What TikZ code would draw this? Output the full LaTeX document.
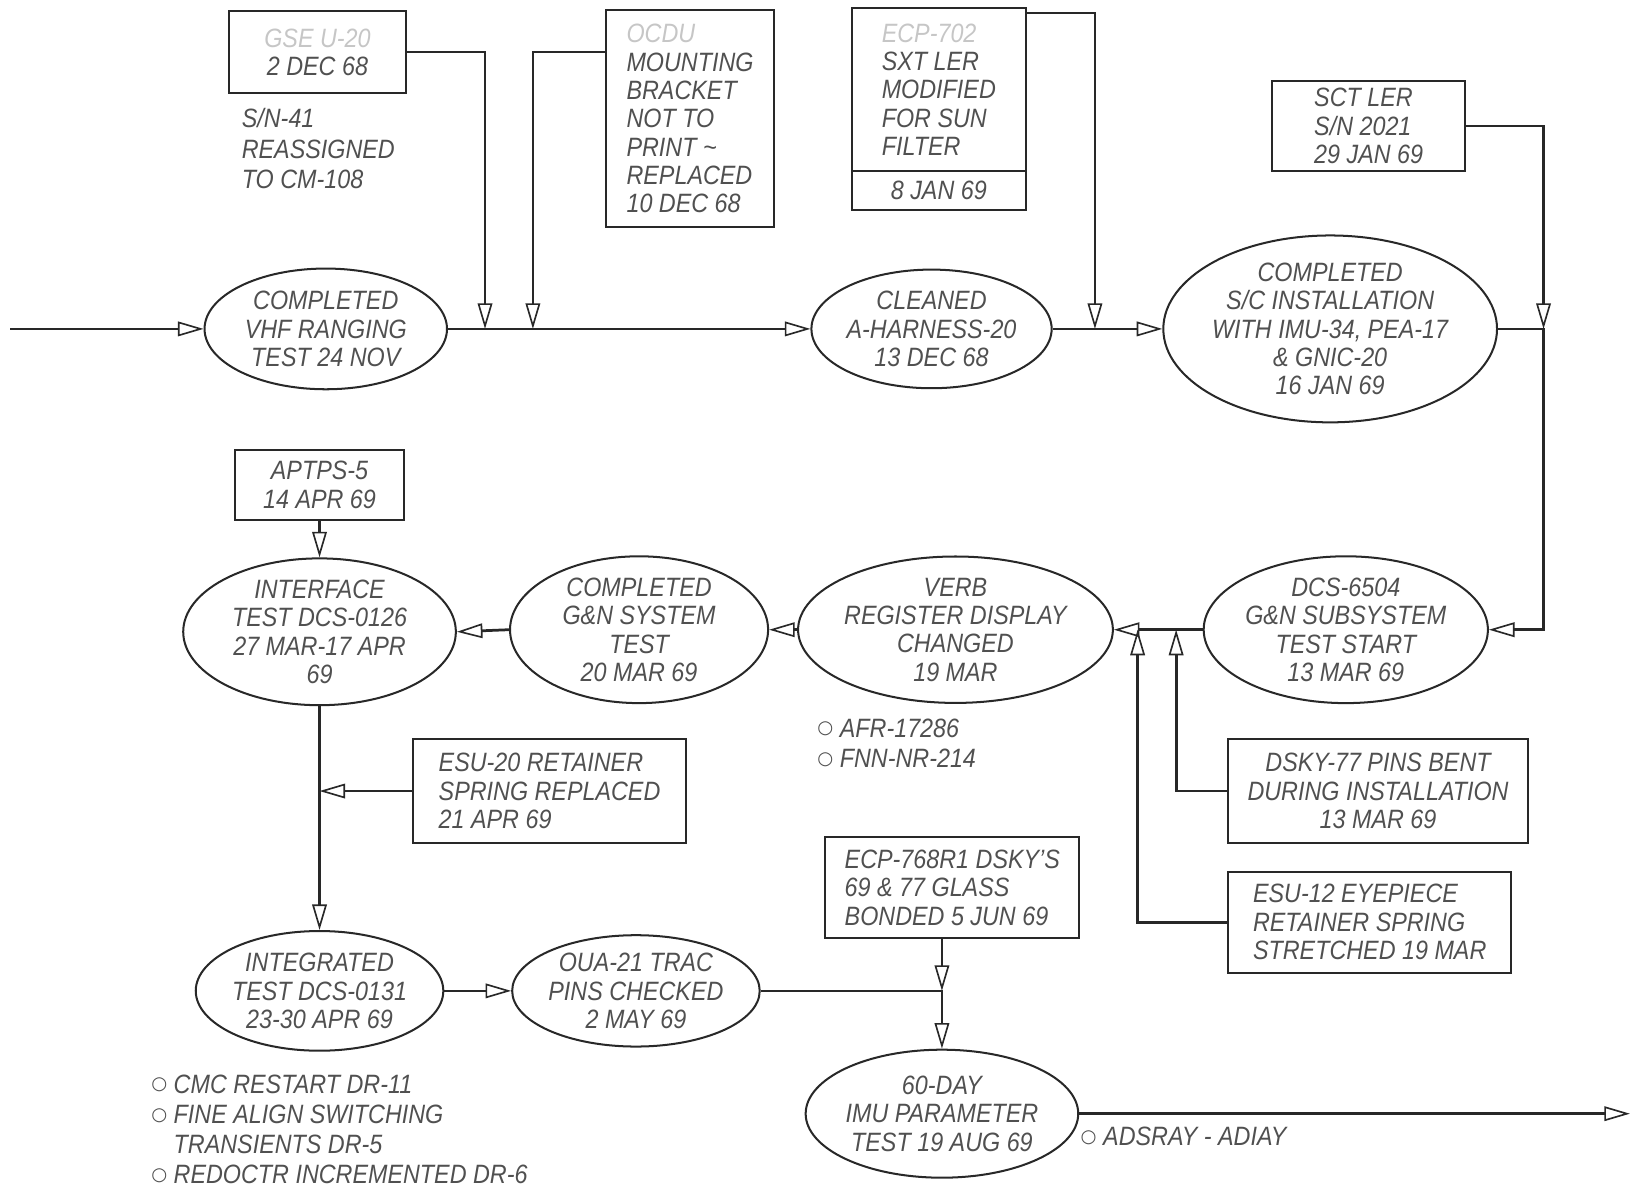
\documentclass[tikz,border=0pt]{standalone}
\usepackage{fontspec}
\setmainfont{Liberation Sans}[FakeStretch=0.88]
\newfontfamily\symfont{DejaVu Sans}
\usepackage{xcolor}
\usetikzlibrary{arrows.meta,positioning,shapes.geometric}
\definecolor{inkline}{RGB}{40,40,40}
\definecolor{inktext}{RGB}{80,80,80}
\newcommand{\ptmark}{\raisebox{0.12em}{\symfont\fontsize{10}{10}\selectfont ○}\ }
\newcommand{\faint}[1]{{\color{gray!45}#1}}

\begin{document}
\begin{tikzpicture}[x=0.02cm, y=-0.02cm,
    event/.style={ellipse, draw=inkline, line width=1.1pt, inner sep=0pt, align=center,
                text=inktext, font=\itshape\fontsize{14.5}{15.5}\selectfont},
    note/.style={rectangle, draw=inkline, line width=1.1pt, inner sep=0pt, align=left,
                text=inktext, font=\itshape\fontsize{14.5}{15.5}\selectfont},
    remark/.style={inner sep=0pt, align=left, text=inktext,
                font=\itshape\fontsize{14.5}{16.5}\selectfont},
    arr/.style={-{Triangle[open, length=14pt, width=8pt, line width=0.9pt]}, inkline, line width=1.5pt}]
\useasboundingbox (0,0) rectangle (1568,1154);
% top row
\node[event, minimum width=4.66cm, minimum height=2.32cm] (vhf) at (313,316) {COMPLETED\\VHF RANGING\\TEST 24 NOV};
\node[event, minimum width=4.6cm, minimum height=2.28cm] (clean) at (895,316) {CLEANED\\A-HARNESS-20\\13 DEC 68};
\node[event, minimum width=5.7cm, minimum height=3.1cm] (scinst) at (1278,316) {COMPLETED\\S/C INSTALLATION\\WITH IMU-34, PEA-17\\\& GNIC-20\\16 JAN 69};
\node[note, align=center, minimum width=3.4cm, minimum height=1.56cm] (b1) at (305,50) {\faint{GSE U-20}\\2 DEC 68};
\node[note, minimum width=3.22cm, minimum height=4.16cm] (b2) at (663,114) {\faint{OCDU}\\MOUNTING\\BRACKET\\NOT TO\\PRINT \textasciitilde\\REPLACED\\10 DEC 68};
\node[note, minimum width=3.34cm, minimum height=3.14cm] (b3) at (902,86) {\faint{ECP-702}\\SXT LER\\MODIFIED\\FOR SUN\\FILTER};
\node[note, align=center, minimum width=3.34cm, minimum height=0.74cm] (b3d) at (902,183) {8 JAN 69};
\node[note, minimum width=3.72cm, minimum height=1.74cm] (sct) at (1315,121) {SCT LER\\S/N 2021\\29 JAN 69};
\node[remark, anchor=north west] (sn41) at (232,104) {S/N-41\\REASSIGNED\\TO CM-108};
\coordinate (in) at (10,316);
\coordinate (j1) at (466,316);
\coordinate (j2) at (512,316);
\coordinate (j3) at (1052,316);
\coordinate (j4) at (1483,316);
\draw[arr] (in) -- (vhf.west);
\draw[arr] (vhf.east) -- (clean.west);
\draw[arr] (b1.east) -| (j1);
\draw[arr] (b2.west |- b1.east) -| (j2);
\draw[arr] ([yshift=-0.12cm]b3.north east) -| (j3);
\draw[arr] (clean.east) -- (scinst.west);
\draw[arr] (sct.east) -| (j4);
% middle row
\node[event, minimum width=4.74cm, minimum height=2.5cm] (dcs) at (1293,605) {DCS-6504\\G\&N SUBSYSTEM\\TEST START\\13 MAR 69};
\node[event, minimum width=4.86cm, minimum height=2.5cm] (verb) at (918,605) {VERB\\REGISTER DISPLAY\\CHANGED\\19 MAR};
\node[event, minimum width=4.96cm, minimum height=2.4cm] (gnsys) at (614,605) {COMPLETED\\G\&N SYSTEM\\TEST\\20 MAR 69};
\node[event, minimum width=5.24cm, minimum height=2.72cm] (intf) at (307,607) {INTERFACE\\TEST DCS-0126\\27 MAR-17 APR\\69};
\node[note, align=center, minimum width=3.26cm, minimum height=1.34cm] (aptps) at (307,466) {APTPS-5\\14 APR 69};
\node[note, minimum width=5.26cm, minimum height=2cm] (esu20) at (528,760) {ESU-20 RETAINER\\SPRING REPLACED\\21 APR 69};
\node[note, align=center, minimum width=5.76cm, minimum height=2cm] (dsky) at (1324,760) {DSKY-77 PINS BENT\\DURING INSTALLATION\\13 MAR 69};
\node[note, minimum width=5.44cm, minimum height=1.94cm] (esu12) at (1316,886) {ESU-12 EYEPIECE\\RETAINER SPRING\\STRETCHED 19 MAR};
\node[remark, anchor=north west] (afr) at (785,690) {\ptmark AFR-17286\\\ptmark FNN-NR-214};
\coordinate (j5) at (1093,605);
\coordinate (j6) at (1130,605);
\draw[arr] (scinst.east) -- (j4) |- (dcs.east);
\draw[arr] (dcs.west) -- (verb.east);
\draw[arr] (esu12.west) -| (j5);
\draw[arr] (dsky.west) -| (j6);
\draw[arr] (verb.west) -- (gnsys.east);
\draw[arr] (gnsys.west) -- (intf.east);
\draw[arr] (aptps.south) -- (intf.north);
% bottom row
\node[event, minimum width=4.64cm, minimum height=2.3cm] (integ) at (307,952) {INTEGRATED\\TEST DCS-0131\\23-30 APR 69};
\node[event, minimum width=4.54cm, minimum height=2.14cm] (oua) at (611,952) {OUA-21 TRAC\\PINS CHECKED\\2 MAY 69};
\node[event, minimum width=4.44cm, minimum height=2.46cm] (sixty) at (905,1070) {60-DAY\\IMU PARAMETER\\TEST 19 AUG 69};
\node[note, minimum width=4.88cm, minimum height=1.94cm] (ecp) at (915,853) {ECP-768R1 DSKY'S\\69 \& 77 GLASS\\BONDED 5 JUN 69};
\node[remark, anchor=north west] (cmc) at (145,1032) {\ptmark CMC RESTART DR-11\\\ptmark FINE ALIGN SWITCHING\\\phantom{\ptmark}TRANSIENTS DR-5\\\ptmark REDOCTR INCREMENTED DR-6};
\node[remark, anchor=west] (adsray) at (1038,1092) {\ptmark ADSRAY - ADIAY};
\coordinate (j7) at (307,757);
\coordinate (j8) at (905,952);
\coordinate (out) at (1566,1070);
\draw[arr] (intf.south) -- (integ.north);
\draw[arr] (esu20.west) -- (esu20.west -| j7);
\draw[arr] (integ.east) -- (oua.west);
\draw[arr] (oua.east) -| (sixty.north);
\draw[arr] (ecp.south -| j8) -- (j8);
\draw[arr] (sixty.east) -- (out);
\end{tikzpicture}
\end{document}
